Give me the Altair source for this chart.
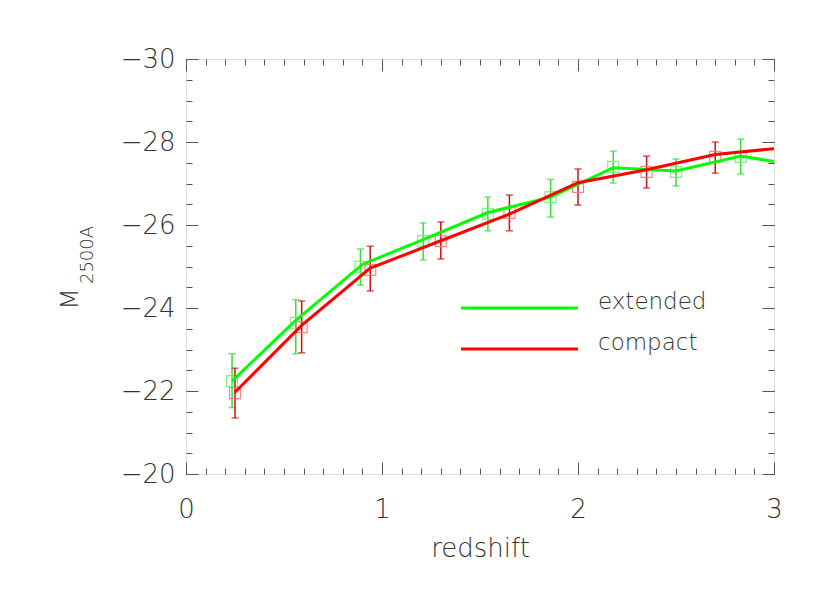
import altair as alt
import pandas as pd

# ---- data ----
ext_z = [0.235, 0.56, 0.89, 1.21, 1.54, 1.86, 2.18, 2.50, 2.83]
ext_m = [-22.24, -23.64, -24.99, -25.61, -26.27, -26.67, -27.40, -27.28, -27.64]
ext_lo = [-21.60, -22.90, -24.55, -25.16, -25.86, -26.19, -27.01, -26.94, -27.23]
ext_hi = [-22.90, -24.20, -25.42, -26.05, -26.67, -27.10, -27.78, -27.59, -28.07]

cmp_z = [0.25, 0.59, 0.94, 1.30, 1.65, 2.00, 2.35, 2.70]
cmp_m = [-21.95, -23.54, -24.92, -25.61, -26.29, -26.92, -27.28, -27.64]
cmp_lo = [-21.35, -22.92, -24.41, -25.18, -25.86, -26.48, -26.89, -27.25]
cmp_hi = [-22.55, -24.17, -25.49, -26.07, -26.72, -27.35, -27.66, -28.00]

ext_line_z = [0.235, 0.56, 0.90, 1.21, 1.54, 1.86, 2.18, 2.50, 2.83, 3.00]
ext_line_m = [-22.24, -23.70, -25.05, -25.65, -26.30, -26.67, -27.38, -27.30, -27.66, -27.53]

cmp_line_z = [0.25, 0.59, 0.94, 1.30, 1.65, 2.00, 2.35, 2.70, 3.00]
cmp_line_m = [-21.97, -23.58, -24.96, -25.62, -26.26, -27.02, -27.33, -27.70, -27.84]

series_names = ["extended", "compact"]

x_major = [0, 1, 2, 3]
x_minor = [round(i * 0.1, 1) for i in range(31)]
y_major = [-30, -28, -26, -24, -22, -20]
y_minor = [-30 + 0.5 * i for i in range(21)]

FONT = "DejaVu Sans"
FW = 200
TXT = "#333333"
AX = "#555555"

GREEN = "#00ff00"
GREEN_ERR = "#33e033"
GREEN_SQ = "#77ee77"
RED = "#ff0000"
RED_ERR = "#cc1111"
RED_SQ = "#ff7777"

X_SCALE = alt.Scale(domain=[0, 3], nice=False, zero=False)
Y_SCALE = alt.Scale(domain=[-30, -20], reverse=True, nice=False, zero=False)

ext_df = pd.DataFrame({"z": ext_z, "m": ext_m, "lo": ext_lo, "hi": ext_hi})
cmp_df = pd.DataFrame({"z": cmp_z, "m": cmp_m, "lo": cmp_lo, "hi": cmp_hi})
ext_line_df = pd.DataFrame({"z": ext_line_z, "m": ext_line_m})
cmp_line_df = pd.DataFrame({"z": cmp_line_z, "m": cmp_line_m})


def ax(orient, values, size, labels=False, title=None, **kw):
    return alt.Axis(orient=orient, values=values, offset=-size, tickSize=size,
                    labels=labels, title=title, domain=False, grid=False,
                    tickColor=AX, tickWidth=1, **kw)


def axis_layer(xa, ya):
    return alt.Chart(ext_df).mark_point(opacity=0).encode(
        x=alt.X("z:Q", scale=X_SCALE, axis=xa),
        y=alt.Y("m:Q", scale=Y_SCALE, axis=ya),
    )


lab = dict(labelFont=FONT, labelFontSize=26, labelFontWeight=FW, labelColor=TXT,
           labelFlush=False, labelOverlap=False, labelBound=False)

layers = [
    axis_layer(
        ax("bottom", x_major, 12, labels=True, title="redshift", labelPadding=22,
           format="d", titleFont=FONT, titleFontSize=26, titleFontWeight=FW,
           titleColor=TXT, titlePadding=13, **lab),
        ax("left", y_major, 12, labels=True, labelPadding=11, format="d", **lab),
    ),
    axis_layer(ax("bottom", x_minor, 6), ax("left", y_minor, 6)),
    axis_layer(ax("top", x_major, 12), ax("right", y_major, 12)),
    axis_layer(ax("top", x_minor, 6), ax("right", y_minor, 6)),
]


def X(f="z"):
    return alt.X(f + ":Q", scale=X_SCALE, axis=None)


def Y(f="m"):
    return alt.Y(f + ":Q", scale=Y_SCALE, axis=None)


def series(df, err_c, sq_c):
    err = alt.Chart(df).mark_rule(color=err_c, strokeWidth=1.5).encode(
        x=X(), y=Y("lo"), y2=alt.Y2("hi"))
    cap_lo = alt.Chart(df).mark_tick(color=err_c, orient="horizontal", size=7,
                                     thickness=1.5).encode(x=X(), y=Y("lo"))
    cap_hi = alt.Chart(df).mark_tick(color=err_c, orient="horizontal", size=7,
                                     thickness=1.5).encode(x=X(), y=Y("hi"))
    sq = alt.Chart(df).mark_point(shape="square", filled=False, size=121,
                                  color=sq_c, strokeWidth=1.2, opacity=0.9).encode(
        x=X(), y=Y())
    return [err, cap_lo, cap_hi, sq]


layers += series(ext_df, GREEN_ERR, GREEN_SQ)
layers += series(cmp_df, RED_ERR, RED_SQ)

layers.append(alt.Chart(ext_line_df).mark_line(color=GREEN, strokeWidth=3).encode(x=X(), y=Y()))
layers.append(alt.Chart(cmp_line_df).mark_line(color=RED, strokeWidth=3).encode(x=X(), y=Y()))

# ---- legend (drawn manually) ----
leg_colors = [GREEN, RED]
leg_y = [249, 290]
for name, col, yy in zip(series_names, leg_colors, leg_y):
    d = pd.DataFrame({"name": [name]})
    layers.append(alt.Chart(d).mark_rule(color=col, strokeWidth=3).encode(
        x=alt.value(275), x2=alt.value(392), y=alt.value(yy)))
    layers.append(alt.Chart(d).mark_text(align="left", baseline="alphabetic", font=FONT,
                                         fontSize=23, fontWeight=FW, color=TXT).encode(
        x=alt.value(412), y=alt.value(yy + 1), text="name:N"))

# ---- y axis title with subscript ----
ttl = pd.DataFrame({"t": ["M"], "s": ["2500A"]})
layers.append(alt.Chart(ttl).mark_text(angle=270, align="center", baseline="alphabetic",
                                       font=FONT, fontSize=25, fontWeight=FW, color=TXT).encode(
    x=alt.value(-108), y=alt.value(240), text="t:N"))
layers.append(alt.Chart(ttl).mark_text(angle=270, align="center", baseline="alphabetic",
                                       font=FONT, fontSize=18, fontWeight=FW, color=TXT).encode(
    x=alt.value(-93), y=alt.value(196), text="s:N"))

chart = alt.layer(*layers).resolve_axis(x="independent", y="independent").properties(
    width=588, height=415,
    autosize=alt.AutoSizeParams(type="none"),
    padding={"left": 178, "top": 51, "right": 48, "bottom": 111},
).configure_view(stroke=AX, strokeWidth=1.2).configure(background="white")

chart.save("out.html", embed_options={"renderer": "svg", "actions": False})
